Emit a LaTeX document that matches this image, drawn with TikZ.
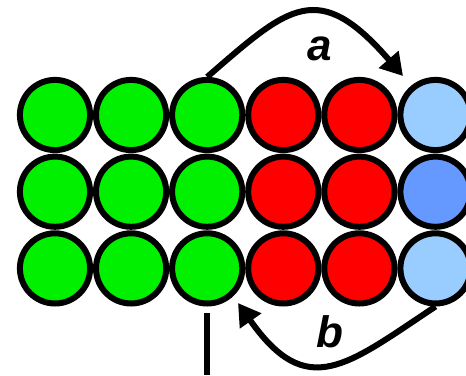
\documentclass[tikz,border=0pt]{standalone}
\usepackage{fontspec}
\setmainfont{Liberation Sans}
\usetikzlibrary{arrows.meta}
\definecolor{ballgreen}{HTML}{00F000}
\definecolor{ballred}{HTML}{FF0000}
\definecolor{balllight}{HTML}{99CCFF}
\definecolor{balldark}{HTML}{6699FF}
\tikzset{
  ball/.style={circle, draw=black, line width=6pt, minimum size=70.2pt, inner sep=0pt},
  bigarrow/.style={line width=6pt, -{Triangle[length=22pt,width=25pt]}},
  lbl/.style={font=\fontsize{44}{44}\selectfont\bfseries\itshape, inner sep=0pt, anchor=base},
}
\begin{document}
\begin{tikzpicture}[x=1pt,y=-1pt]
\path[use as bounding box, fill=white] (0,0) rectangle (466,375);
% row 1
\node[ball, fill=ballgreen] (c11) at (55,115) {};
\node[ball, fill=ballgreen] (c12) at (131.1,115) {};
\node[ball, fill=ballgreen] (c13) at (207.2,115) {};
\node[ball, fill=ballred] (c14) at (283.3,115) {};
\node[ball, fill=ballred] (c15) at (359.4,115) {};
\node[ball, fill=balllight] (c16) at (435.5,115) {};
% row 2
\node[ball, fill=ballgreen] (c21) at (55,191.7) {};
\node[ball, fill=ballgreen] (c22) at (131.1,191.7) {};
\node[ball, fill=ballgreen] (c23) at (207.2,191.7) {};
\node[ball, fill=ballred] (c24) at (283.3,191.7) {};
\node[ball, fill=ballred] (c25) at (359.4,191.7) {};
\node[ball, fill=balldark] (c26) at (435.5,191.7) {};
% row 3
\node[ball, fill=ballgreen] (c31) at (55,268.4) {};
\node[ball, fill=ballgreen] (c32) at (131.1,268.4) {};
\node[ball, fill=ballgreen] (c33) at (207.2,268.4) {};
\node[ball, fill=ballred] (c34) at (283.3,268.4) {};
\node[ball, fill=ballred] (c35) at (359.4,268.4) {};
\node[ball, fill=balllight] (c36) at (435.5,268.4) {};
% arrow a
\coordinate (atip) at (403,76);
\draw[bigarrow] (c13.north) .. controls (289,6) and (318,-22) .. (atip);
\node[lbl] (la) at (320,60) {a};
% arrow b
\coordinate (btip) at (238,303);
\draw[bigarrow] (c36.south) .. controls (346,366) and (307,401) .. (btip);
\node[lbl] (lb) at (330,347) {b};
% vertical mark
\coordinate (v1) at (207,313);
\coordinate (v2) at (207,375);
\draw[line width=6pt] (v1) -- (v2);
\end{tikzpicture}
\end{document}
